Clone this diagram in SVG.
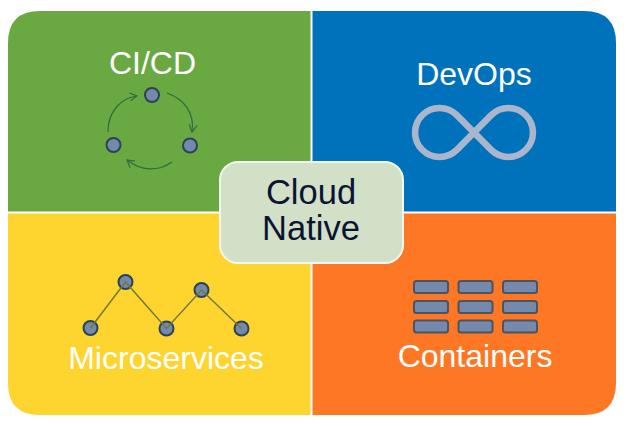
<svg xmlns="http://www.w3.org/2000/svg" width="629" height="426" viewBox="0 0 629 426">
<style>
.lbl{font-family:"Liberation Sans",Arial,sans-serif;font-size:32px;fill:#fff;text-anchor:middle}
.ctr{font-family:"Liberation Sans",Arial,sans-serif;font-size:34.500px;fill:#0b1433;text-anchor:middle}
.dot{fill:#7589ac;stroke:#2c4258;stroke-width:2}
.link{fill:none;stroke:#6f7a3c;stroke-width:1.5}
.cyc{fill:none;stroke:#2f6b45;stroke-width:1.2}
.box{fill:#7589ac;stroke:#4a5560;stroke-width:2}
</style>
<defs>
<marker id="ah" markerWidth="10" markerHeight="10" refX="8" refY="5" orient="auto" markerUnits="userSpaceOnUse"><path d="M1 1L8 5L1 9" fill="none" stroke="#2f6b45" stroke-width="1.2"/></marker>
</defs>
<rect width="629" height="426" fill="#fff"/>
<g id="cicd">
<path d="M310.500 11H40Q8 11 8 43V211.500H310.500Z" fill="#6aa842"/>
<text class="lbl" x="152.500" y="74">CI/CD</text>
<circle class="dot" cx="152" cy="95" r="7"/>
<circle class="dot" cx="113.500" cy="145" r="7"/>
<circle class="dot" cx="190" cy="145.500" r="7"/>
</g>
<g id="devops">
<path d="M312.500 11H584Q616 11 616 43V211.500H312.500Z" fill="#0071bb"/>
<text class="lbl" x="474" y="85">DevOps</text>
<path d="M456.800 115.100L491.200 149.900A24.500 24.500 0 1 0 491.200 115.100L456.800 149.900A24.500 24.500 0 1 1 456.800 115.100Z" fill="none" stroke="#a9b6cb" stroke-width="6.500"/>
</g>
<g id="microservices">
<path d="M8 213.500H310.500V415H40Q8 415 8 383Z" fill="#fed42f"/>
<text class="lbl" x="166" y="369">Microservices</text>
<circle class="dot" cx="90.500" cy="328" r="7"/>
<circle class="dot" cx="125.500" cy="282" r="7"/>
<circle class="dot" cx="166.500" cy="328.500" r="7"/>
<circle class="dot" cx="201.500" cy="290" r="7"/>
<circle class="dot" cx="241.500" cy="328.500" r="7"/>
</g>
<g id="containers">
<path d="M312.500 213.500H616V383Q616 415 584 415H312.500Z" fill="#fe7725"/>
<text class="lbl" x="475" y="367">Containers</text>
<rect class="box" x="414" y="281" width="34" height="12" rx="2.500"/>
<rect class="box" x="458.500" y="281" width="34" height="12" rx="2.500"/>
<rect class="box" x="503" y="281" width="34" height="12" rx="2.500"/>
<rect class="box" x="414" y="301" width="34" height="12" rx="2.500"/>
<rect class="box" x="458.500" y="301" width="34" height="12" rx="2.500"/>
<rect class="box" x="503" y="301" width="34" height="12" rx="2.500"/>
<rect class="box" x="414" y="320.500" width="34" height="12" rx="2.500"/>
<rect class="box" x="458.500" y="320.500" width="34" height="12" rx="2.500"/>
<rect class="box" x="503" y="320.500" width="34" height="12" rx="2.500"/>
</g>
<g id="connectors">
<path class="cyc" d="M108 132C108 110 122 98 137 96" marker-end="url(#ah)"/>
<path class="cyc" d="M167 93C184 99 195 113 192 132" marker-end="url(#ah)"/>
<path class="cyc" d="M172 162C158 172 141 171 127 160" marker-end="url(#ah)"/>
<path class="link" d="M90.500 328L125.500 282L166.500 328.500L201.500 290L241.500 328.500"/>
</g>
<g id="cloud-native">
<rect x="220" y="162" width="183" height="101" rx="18" fill="#d2e0c8" stroke="#f2f6ee" stroke-width="2"/>
<text class="ctr" x="311" y="204">Cloud</text>
<text class="ctr" x="311" y="240">Native</text>
</g>
</svg>
